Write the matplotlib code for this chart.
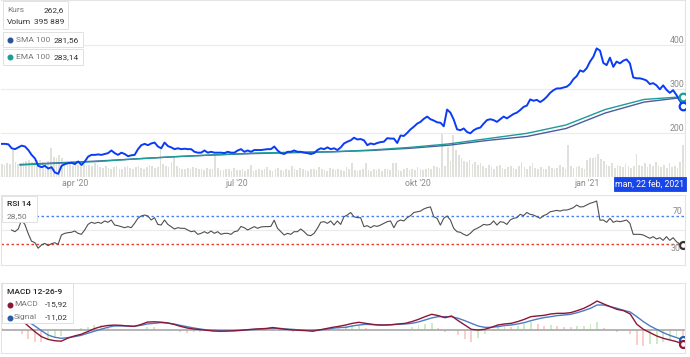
import numpy as np
import matplotlib.pyplot as plt
from matplotlib import font_manager
from matplotlib.patches import Rectangle

W, H = 690, 357

# ---- data ----
n_days = 250
tick_days = [27, 86, 152, 214]
tick_labels = ["apr '20", "jul '20", "okt '20", "jan '21"]

# closing price, sampled evenly over the year
close = [
    176, 176, 175, 166, 164, 168, 172, 170, 162, 151,
    143, 126, 123, 126, 120, 123, 111, 108, 126, 130,
    132, 133, 130, 136, 128, 136, 147, 151, 151, 152,
    151, 153, 155, 161, 155, 151, 156, 153, 148, 150,
    151, 164, 173, 176, 173, 177, 179, 170, 166, 179,
    171, 168, 164, 166, 164, 165, 164, 164, 158, 156,
    156, 161, 156, 158, 156, 156, 156, 155, 158, 156,
    156, 161, 164, 158, 161, 158, 162, 162, 162, 163,
    164, 164, 170, 161, 155, 153, 158, 158, 161, 158,
    158, 156, 155, 153, 155, 162, 166, 164, 168, 164,
    166, 162,
    168, 177, 181, 184, 190, 186, 187, 184, 173, 177,
    175, 178, 180, 181, 189, 188, 188, 178, 195, 194,
    201, 209, 215, 222, 226, 233, 238, 232, 229, 225,
    224, 216, 254, 247, 231, 209, 207, 211, 203, 200,
    207, 211, 213, 222, 230, 232, 230, 226, 232, 238,
    234, 239, 244, 247, 253, 260, 263, 277, 274, 276,
    271, 276, 283, 292, 298, 302, 302, 304, 306, 312,
    323, 330, 343, 340, 348, 363, 374, 393, 388, 360,
    355, 372, 351, 363, 359, 365, 368, 359, 327, 325,
    325, 323, 320, 312, 314, 309, 300, 309, 299, 292,
    298, 287, 274, 262.6,
]

ma_start_day = 6.7
sma100 = [129, 133, 137, 142, 147, 151, 154, 156, 158, 161, 166, 173,
          184, 193, 211, 246, 271, 281.56]
ema100 = [128, 132, 136, 142, 147, 151, 155, 157, 158, 162, 168, 176,
          188, 200, 219, 254, 277, 283.14]

# volume in thousands, one per trading day
volume_k = [
    160, 150, 170, 165, 335, 180, 160, 175, 190, 200,
    210, 190, 180, 205, 215, 190, 170, 200, 360, 250,
    240, 270, 230, 170, 150, 160, 140, 175, 150, 130,
    160, 140, 150, 130, 170, 145, 120, 110, 130, 115,
    100, 125, 140, 105, 95, 120, 135, 110, 100, 125,
    140, 115, 105, 120, 150, 130, 110, 125, 350, 160,
    140, 120, 180, 250, 130, 110, 105, 95, 115, 100,
    120, 110, 95, 100, 90, 115, 105, 100, 275, 110,
    90, 85, 100, 95, 80, 110, 90, 85, 100, 75,
    95, 150, 80, 90, 105, 85, 100, 120, 90, 80,
    95, 110, 85, 80, 100, 90, 130, 95, 85, 110,
    100, 90, 80, 105, 95, 85, 120, 100, 90, 80,
    110, 95, 85, 100, 90, 80, 120, 95, 170, 85,
    75, 90, 100, 175, 85, 80, 95, 90, 105, 75,
    95, 100, 85, 170, 175, 90, 80, 95, 110, 85,
    100, 90, 120, 95, 85, 100, 110, 95, 130, 120,
    110, 530, 140, 370, 200, 520, 335, 270, 240, 200,
    180, 210, 160, 190, 150, 170, 130, 110, 145, 120,
    100, 130, 150, 115, 95, 125, 140, 110, 100, 130,
    185, 120, 100, 140, 175, 110, 95, 120, 105, 100,
    130, 115, 95, 110, 150, 120, 100, 395, 130, 110,
    120, 140, 110, 100, 210, 240, 230, 250, 285, 220,
    200, 150, 130, 170, 110, 150, 140, 120, 165, 130,
    110, 140, 285, 150, 130, 175, 120, 160, 140, 185,
    130, 120, 150, 110, 170, 125, 140, 115, 180, 395.889,
]

rsi_start_day = 3.6
rsi14 = [
    50, 47.6, 51.4, 64, 58, 45, 34, 32, 24, 28.6,
    30.9, 27.6, 30.5, 31.8, 29.5, 42.9, 45.2, 46.2, 46.7, 48.6,
    45.2, 43.8, 50, 58, 61, 59.5, 61, 59.5, 62.9, 61,
    64.3, 57.1, 56.2, 54.8, 53.3, 54.8, 53.3, 59.5, 66.7, 70,
    71.4, 70, 64.3, 67.6, 58, 57.1, 64.3, 58, 54.8, 51.4,
    53.3, 52.4, 52.4, 50, 47.6, 48.6, 43.8, 45.2, 47.6, 45.2,
    48.6, 45.2, 47.6, 43.8, 45.2, 45.2, 43.8, 47.6, 48.6, 55,
    53.3, 50, 52.4, 54.8, 52.4, 54.3, 54.8, 54.8, 55.2, 64,
    52.4, 47.6, 42.9, 45.2, 43.8, 47.6, 47.6, 51.4, 47.6, 42.9,
    41.9, 45.2, 52.4, 61, 61.9, 59.5, 62.9, 57.1, 62.9, 58,
    69, 71.4, 75, 69, 67.6, 67.6, 54.8, 56.2, 53.3, 56.2,
    55.2, 57.1, 59.5, 61.9, 62.9, 53.3, 61.9, 64.3, 62.9, 67.6,
    70.5, 75, 76, 77, 80, 81.9, 83, 69, 66.7, 57,
    66.7, 70, 64.3, 52.4, 47.6, 46.7, 43.8, 41.9, 45.2, 50,
    52.4, 54.8, 58, 57.1, 58, 62.9, 57.1, 61.9, 61, 58,
    64.3, 66.7, 67.6, 72.4, 70.5, 75, 72.4, 71.4, 69, 66.7,
    70.5, 72.4, 76, 77, 78, 77, 78.5, 78.5, 80, 81.9,
    85.7, 82.9, 83.3, 85.7, 88.1, 89.5, 91.4, 64, 64.3, 61,
    66.7, 61, 62.9, 61.9, 62.9, 64.3, 59.5, 43.8, 43.8, 43.8,
    42.9, 40.5, 38.1, 40.5, 37.1, 39, 35.2, 40.5, 35.2, 39,
    33.3, 30, 28.5,
]

macd_line = [
    17, 15.5, 14,
    11.8, 5, -1.5, -7.3, -10.4, -12, -12.5, -9, -6.5, -4.6,
    -1.5, 1.9, 4.2, 5.5, 6, 5.7, 5, 4.5, 6.5, 9.4,
    9.8, 9.4, 8.6, 6.9, 4.6, 2.7, 1.5, 0.8, 0, -0.8,
    -1.1, -0.9, -0.6, -0.2, 0.6, 1.3, 1.7, 2.1, 3.2, 1.9,
    1.1, 0.4, 0, -0.4, -1.1, 0.4, 1.9, 3.4, 4.6,
    6.1, 8, 9.2, 8, 6.9, 6.1, 6.1, 6.5, 7.3, 8,
    10, 12.6, 15.7, 18.4, 16.9, 14.5, 16.5, 11.1, 6.1, 1.1,
    0.4, 1.1, 3.4, 6.1, 7.3, 8, 10, 12.6, 15.7, 16.5,
    17.2, 18.8, 19.5, 19.5, 20.3, 22.6, 25.3, 29.1, 33.7, 30.3,
    27.2, 24.1, 22.6, 18.8, 7, 1.1, -2.7, -6.5, -9.2, -11.1,
    -13, -15.92,
]
macd_signal = [
    15.5, 15, 14.5,
    13.8, 10, 5, -0.4, -5.4, -8, -9.2, -8.4, -7.3, -5.8,
    -3.4, -1.1, 1.1, 3.4, 5, 5, 5, 4.6, 5.7, 7.3,
    8, 8.8, 8.4, 7.3, 5.7, 4.2, 2.7, 1.5, 0.4, 0,
    -0.4, -0.4, -0.4, 0, 0.4, 0.8, 1.5, 1.9, 2.3, 2.3,
    1.5, 1.1, 0.4, 0, 0, 0.4, 1.1, 2.3, 3.2,
    3.4, 5, 6.1, 6.9, 6.5, 6.1, 6.1, 6.5, 6.9, 7.3,
    8, 9.6, 11.9, 14.2, 15.7, 15.7, 15.7, 13.8, 11.1, 8,
    5, 3.4, 3.4, 4.2, 5.4, 6.1, 7.3, 8.8, 11.1, 13,
    14.6, 15.7, 16.9, 17.6, 18.4, 20.3, 22.6, 25.3, 29.1, 29.1,
    27.2, 25.3, 23, 21.1, 15.7, 10, 5, 1.1, -2.7, -5.8,
    -8.4, -11.02,
]
macd_hist = [
    1.5, 0.5, -0.5,
    -2, -5, -6.5, -6.9, -5, -4, -3.3, -0.6, 0.8, 1.2,
    1.9, 3, 3.1, 2.1, 1, 0.7, 0, -0.1, 0.8, 2.1,
    1.8, 0.6, 0.2, -0.4, -1.1, -1.5, -1.2, -0.7, -0.4, -0.8,
    -0.7, -0.5, -0.2, -0.2, 0.2, 0.5, 0.2, 0.2, 0.9, -0.4,
    -0.4, -0.7, -0.4, -0.4, -1.1, 0, 0.8, 1.1, 1.4,
    2.7, 3, 3.1, 1.1, 0.4, 0, 0, 0, 0.4, 0.7,
    2, 3, 3.8, 4.2, 1.2, -1.2, 0.8, -2.7, -5, -6.9,
    -4.6, -2.3, 0, 1.9, 1.9, 1.9, 2.7, 3.8, 4.6, 3.5,
    2.6, 3.1, 2.6, 1.9, 1.9, 2.3, 2.7, 3.8, 4.6, 1.2,
    0, -1.2, -0.4, -2.3, -8.7, -8.9, -7.7, -7.6, -6.5, -5.3,
    -4.6, -4.9,
]

# ---- styling ----
available = {f.name for f in font_manager.fontManager.ttflist}
for fam in ['Roboto', 'Open Sans', 'DejaVu Sans']:
    if fam in available:
        break
plt.rcParams['font.family'] = [fam, 'DejaVu Sans']

price_col = '#0b3cf5'
sma_col = '#4a5d9e'
ema_col = '#1d9c98'
grid_col = '#ebebeb'
frame_col = '#e4e4e4'
label_col = '#8a8a8a'

fig = plt.figure(figsize=(W / 100, H / 100), dpi=100)


def px_axes(left, top, right, bottom):
    return fig.add_axes([left / W, 1 - bottom / H, (right - left) / W, (bottom - top) / H])


def px_text(x, y, s, **kw):
    kw.setdefault('va', 'center')
    kw.setdefault('zorder', 10)
    fig.text(x / W, 1 - y / H, s, **kw)


def px_box(x0, y0, x1, y1, fc='white', ec='#dcdcdc'):
    fig.add_artist(Rectangle((x0 / W, 1 - y1 / H), (x1 - x0) / W, (y1 - y0) / H,
                             transform=fig.transFigure, fc=fc, ec=ec, lw=0.6, zorder=9))


def style_frame(ax, sides=('top', 'right', 'left', 'bottom')):
    for name, sp in ax.spines.items():
        sp.set_visible(name in sides)
        sp.set_color(frame_col)
        sp.set_linewidth(0.8)


last_day = n_days - 1
xlim = (-0.26, 249.7)

# ---- main panel: price, moving averages, volume ----
ax = px_axes(1, 0, 685, 177)
ax_vol = ax.twinx()
ax.set_zorder(ax_vol.get_zorder() + 1)
ax.patch.set_visible(False)

days = np.arange(n_days)
ax_vol.bar(days, volume_k, width=0.62, color='#e1e1dc', linewidth=0)
ax_vol.set_ylim(0, 2190)
ax_vol.axis('off')

for v in (200, 300, 400):
    ax.axhline(v, color=grid_col, lw=0.8, zorder=0)
    ax.text(0.999, v, str(v), transform=ax.get_yaxis_transform(), ha='right',
            va='bottom', fontsize=6.3, color=label_col)

price_x = np.linspace(0, last_day, len(close))
ma_x = np.linspace(ma_start_day, last_day, len(sma100))
ax.plot(ma_x, sma100, color=sma_col, lw=1.0, zorder=2)
ax.plot(ma_x, ema100, color=ema_col, lw=1.0, zorder=2)
ax.plot(price_x, close, color=price_col, lw=1.4, zorder=3)
ax.plot(last_day, ema100[-1], 'o', ms=5.5, mfc='white', mec=ema_col, mew=1.6, zorder=4)
ax.plot(last_day, close[-1], 'o', ms=5.5, mfc='white', mec=price_col, mew=1.6, zorder=4)

ax.set_xlim(*xlim)
ax.set_ylim(100.7, 503)
ax.set_yticks([])
ax.set_xticks(tick_days)
ax.set_xticklabels(tick_labels)
ax.tick_params(axis='x', length=0, pad=1.5, labelsize=6.3, labelcolor=label_col)
style_frame(ax, sides=('top', 'right'))

# ---- RSI panel ----
ax_rsi = px_axes(1, 195, 685, 265)
rsi_x = np.linspace(rsi_start_day, last_day, len(rsi14))
ax_rsi.axhline(50, color=grid_col, lw=0.8)
ax_rsi.axhline(70, color='#4a7ef5', lw=1.0, dashes=(1.8, 1.8))
ax_rsi.axhline(30, color='#ef3b2c', lw=1.0, dashes=(1.8, 1.8))
ax_rsi.plot(rsi_x, rsi14, color='#505050', lw=0.8)
ax_rsi.plot(last_day, rsi14[-1], 'o', ms=5, mfc='white', mec='#333333', mew=1.6)
ax_rsi.text(0.997, 70, '70', transform=ax_rsi.get_yaxis_transform(), ha='right',
            va='bottom', fontsize=6.3, color=label_col)
ax_rsi.text(0.993, 30, '30', transform=ax_rsi.get_yaxis_transform(), ha='right',
            va='top', fontsize=6.3, color=label_col)
ax_rsi.set_xlim(*xlim)
ax_rsi.set_ylim(0, 100)
ax_rsi.set_xticks([])
ax_rsi.set_yticks([])
style_frame(ax_rsi)

# ---- MACD panel ----
ax_macd = px_axes(1, 283, 685, 353)
ax_hist = ax_macd.twinx()
ax_macd.set_zorder(ax_hist.get_zorder() + 1)
ax_macd.patch.set_visible(False)

macd_x = np.linspace(0, last_day, len(macd_line))
hist_cols = ['#cdecc3' if i > 0 and macd_hist[i] > macd_hist[i - 1] else '#fbcfc8'
             for i in range(len(macd_hist))]
ax_hist.bar(macd_x, macd_hist, width=0.7, color=hist_cols, linewidth=0)
ax_hist.set_ylim(-26.1 / 2, 54.4 / 2)
ax_hist.axis('off')

macd_col = '#8c1638'
signal_col = '#4d7cc4'
ax_macd.axhline(0, color='#a8a8a8', lw=1.2)
ax_macd.plot(macd_x, macd_signal, color=signal_col, lw=1.0)
ax_macd.plot(macd_x, macd_line, color=macd_col, lw=1.0)
ax_macd.plot(last_day, macd_signal[-1], 'o', ms=5, mfc='white', mec='#2a5aa8', mew=1.6)
ax_macd.plot(last_day, macd_line[-1], 'o', ms=5, mfc='white', mec=macd_col, mew=1.6)
ax_macd.set_xlim(*xlim)
ax_macd.set_ylim(-26.1, 54.4)
ax_macd.set_xticks([])
ax_macd.set_yticks([])
style_frame(ax_macd)

# ---- legend boxes ----
dark = '#333333'
grey = '#777777'
fs = 6.0

px_box(3, 1, 68, 29)
px_text(7, 10, 'Kurs', fontsize=fs, color=grey)
px_text(64, 10, '262,6', fontsize=fs, color=dark, ha='right')
px_text(7, 22, 'Volum', fontsize=fs, color=dark)
px_text(64, 22, '395 889', fontsize=fs, color=dark, ha='right')

px_box(3, 32, 83, 47)
fig.add_artist(plt.Line2D([10 / W], [1 - 40 / H], marker='o', ms=3.3, color='#2d4f9e', zorder=11))
px_text(15.5, 40, 'SMA 100', fontsize=fs, color=grey)
px_text(79, 40, '281,56', fontsize=fs, color=dark, ha='right')

px_box(3, 49, 83, 65)
fig.add_artist(plt.Line2D([10 / W], [1 - 57 / H], marker='o', ms=3.3, color=ema_col, zorder=11))
px_text(15.5, 57, 'EMA 100', fontsize=fs, color=grey)
px_text(79, 57, '283,14', fontsize=fs, color=dark, ha='right')

px_box(2, 196, 37, 222)
px_text(7, 204, 'RSI 14', fontsize=fs, color='#222222', fontweight='medium')
px_text(7, 216.5, '28,50', fontsize=fs, color=grey)

px_box(2, 283, 73, 323)
px_text(7, 292, 'MACD 12-26-9', fontsize=fs, color='#222222', fontweight='medium')
fig.add_artist(plt.Line2D([9.5 / W], [1 - 304.5 / H], marker='o', ms=3.3, color=macd_col, zorder=11))
px_text(14, 304.5, 'MACD', fontsize=fs, color=grey)
px_text(68, 304.5, '-15,92', fontsize=fs, color=dark, ha='right')
fig.add_artist(plt.Line2D([9.5 / W], [1 - 317.5 / H], marker='o', ms=3.3, color='#2d5aa8', zorder=11))
px_text(14, 317.5, 'Signal', fontsize=fs, color=grey)
px_text(68, 317.5, '-11,02', fontsize=fs, color=dark, ha='right')

# date tag
px_box(614, 177, 686, 191, fc='#1745ea', ec='#1745ea')
px_text(650, 184, 'man, 22 feb, 2021', fontsize=6.3, color='white', ha='center')

fig.savefig('out.png', dpi=100)
